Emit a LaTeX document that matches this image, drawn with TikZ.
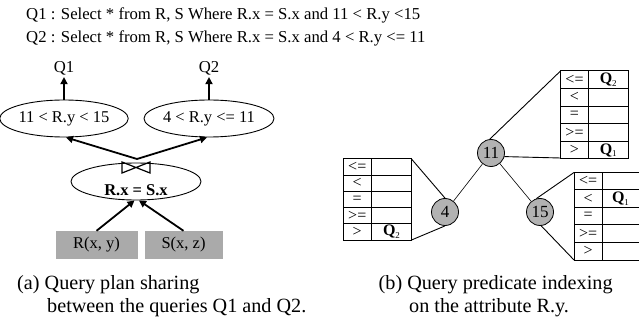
\documentclass[tikz,border=0pt]{standalone}
\usepackage{fontspec}
\setmainfont{Liberation Serif}
\usetikzlibrary{arrows.meta,shapes.geometric}
\definecolor{boxgray}{RGB}{170,170,170}
\definecolor{nodegray}{RGB}{178,178,178}
\begin{document}
\begin{tikzpicture}[x=1pt,y=-1pt,
  txt/.style={inner sep=0pt,font=\fontsize{16.7}{18}\selectfont},
  captxt/.style={inner sep=0pt,anchor=west,font=\fontsize{20.2}{22}\selectfont},
  sel/.style={draw,ellipse,line width=0.9pt,minimum width=106pt,minimum height=37pt,inner sep=0pt,font=\fontsize{16.5}{18}\selectfont},
  rel/.style={fill=boxgray,minimum height=28pt,inner sep=0pt,font=\fontsize{16.5}{18}\selectfont},
  arr/.style={line width=1.8pt,-{Triangle[length=7pt,width=7pt]}},
  tnode/.style={circle,draw,fill=nodegray,line width=0.8pt,minimum size=27pt,inner sep=0pt,font=\fontsize{17}{18}\selectfont},
  tbl/.style={line width=1pt},
  cell/.style={inner sep=0pt,font=\fontsize{16}{17}\selectfont},
  tlink/.style={line width=0.9pt},
  treeedge/.style={line width=0.6pt}]
\useasboundingbox (0,0) rectangle (639,320);

% query texts
\node[txt,anchor=west] (q1text) at (26,15) {Q1 : Select * from R, S Where R.x = S.x and 11 < R.y <15};
\node[txt,anchor=west] (q2text) at (26,38) {Q2 : Select * from R, S Where R.x = S.x and 4 < R.y <= 11};

% (a) query plan
\node[txt] (Q1) at (64,68) {Q1};
\node[txt] (Q2) at (209,68) {Q2};
\node[sel] (sel1) at (64,118.5) {11 < R.y < 15};
\node[sel] (sel2) at (209,118.5) {4 < R.y <= 11};
\node[draw,ellipse,line width=0.9pt,minimum width=130pt,minimum height=37pt] (join) at (136,181.5) {};
\draw[line width=1.2pt] (122,162) -- (150,173) -- (150,162) -- (122,173) -- cycle;
\node[inner sep=0pt,font=\fontsize{16.5}{18}\selectfont\bfseries] (jtxt) at (136,190) {R.x = S.x};
\node[rel,minimum width=82pt] (R) at (96.5,245) {R(x, y)};
\node[rel,minimum width=78pt] (S) at (183.5,245) {S(x, z)};
\coordinate (jtop) at (137,159);

\draw[arr] (sel1.north) -- ([yshift=-2pt]Q1.south);
\draw[arr] (sel2.north) -- ([yshift=-2pt]Q2.south);
\draw[arr] (jtop) -- ([xshift=2pt]sel1.south);
\draw[arr] (jtop) -- ([xshift=-2pt]sel2.south);
\draw[arr] (R.north) -- ([xshift=-1.5pt]join.south);
\draw[arr] (S.north) -- ([xshift=3pt]join.south);

\node[captxt] (capa1) at (17,285) {(a) Query plan sharing};
\node[captxt] (capa2) at (47,308) {between the queries Q1 and Q2.};

% (b) predicate index tree
\node[tnode] (n11) at (491,153) {11};
\node[tnode] (n4) at (445,212) {4};
\node[tnode] (n15) at (540,212) {15};
\draw[treeedge] (n11) -- (n4);
\draw[treeedge] (n11) -- (n15);

% table for 4
\draw[tbl] (343,159) rectangle (411.5,240);
\foreach \i in {1,...,4} \draw[tbl] (343,{159+\i*16.2}) -- (411.5,{159+\i*16.2});
\draw[tbl] (371.5,159) -- (371.5,240);
\foreach \s [count=\i] in {<=,<,=,>=,>}
  \node[cell] (ta\i) at (357.25,{159+(\i-0.5)*16.2}) {\s};
\node[cell] (ta-q) at (391.5,{159+4.5*16.2}) {\textbf{Q}\raisebox{-0.35ex}{\fontsize{9}{9}\selectfont 2}};
\coordinate (ta-tr) at (411.5,159);
\coordinate (ta-br) at (411.5,240);
\draw[tlink] (ta-tr) -- (n4.north);
\draw[tlink] (ta-br) -- (n4.south);

% table for 11
\draw[tbl] (560.5,71) rectangle (628,159);
\foreach \i in {1,...,4} \draw[tbl] (560.5,{71+\i*17.6}) -- (628,{71+\i*17.6});
\draw[tbl] (588.5,71) -- (588.5,159);
\foreach \s [count=\i] in {<=,<,=,>=,>}
  \node[cell] (tb\i) at (574.5,{71+(\i-0.5)*17.6}) {\s};
\node[cell] (tb-q2) at (608.25,{71+0.5*17.6}) {\textbf{Q}\raisebox{-0.35ex}{\fontsize{9}{9}\selectfont 2}};
\node[cell] (tb-q1) at (608.25,{71+4.5*17.6}) {\textbf{Q}\raisebox{-0.35ex}{\fontsize{9}{9}\selectfont 1}};
\coordinate (tb-tl) at (560.5,71);
\coordinate (tb-bl) at (560.5,158);
\draw[tlink] (tb-tl) -- (n11.95);
\draw[tlink] (tb-bl) -- (n11.-15);

% table for 15
\draw[tbl] (574,172.5) rectangle (639,260);
\foreach \i in {1,...,4} \draw[tbl] (574,{172.5+\i*17.5}) -- (639,{172.5+\i*17.5});
\draw[tbl] (602.2,172.5) -- (602.2,260);
\foreach \s [count=\i] in {<=,<,=,>=,>}
  \node[cell] (tc\i) at (588.1,{172.5+(\i-0.5)*17.5}) {\s};
\node[cell] (tc-q1) at (620.5,{172.5+1.5*17.5}) {\textbf{Q}\raisebox{-0.35ex}{\fontsize{9}{9}\selectfont 1}};
\coordinate (tc-tl) at (574,172.5);
\coordinate (tc-bl) at (574,260);
\draw[tlink] (tc-tl) -- (n15.105);
\draw[tlink] (tc-bl) -- (n15.-85);

\node[captxt] (capb1) at (378.5,285) {(b) Query predicate indexing};
\node[captxt] (capb2) at (409,308) {on the attribute R.y.};
\end{tikzpicture}
\end{document}
